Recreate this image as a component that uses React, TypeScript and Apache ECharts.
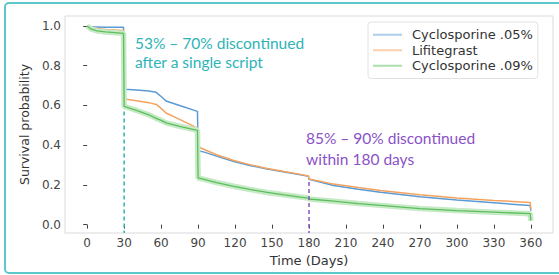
import React, { useEffect, useRef } from "react";
import * as echarts from "echarts";

const days = [0, 3, 8, 15, 29.5, 30, 40, 50, 56, 60, 64, 75, 89.5, 90, 95, 105, 119, 132, 146, 160, 173, 179.5, 180, 200, 220, 238, 270, 300, 330, 359.5, 360];
const cyclo05 = [1.0, 0.995, 0.995, 0.994, 0.993, 0.682, 0.677, 0.672, 0.666, 0.645, 0.622, 0.6, 0.57, 0.372, 0.365, 0.345, 0.318, 0.298, 0.28, 0.265, 0.251, 0.244, 0.228, 0.197, 0.178, 0.163, 0.14, 0.124, 0.11, 0.096, 0.07];
const lifitegrast = [1.0, 0.993, 0.987, 0.982, 0.977, 0.632, 0.624, 0.614, 0.605, 0.585, 0.562, 0.53, 0.486, 0.392, 0.378, 0.352, 0.323, 0.302, 0.283, 0.267, 0.253, 0.245, 0.23, 0.204, 0.187, 0.172, 0.151, 0.134, 0.122, 0.112, 0.078];
const cyclo09 = [1.0, 0.985, 0.975, 0.97, 0.963, 0.595, 0.575, 0.553, 0.535, 0.525, 0.512, 0.495, 0.475, 0.235, 0.228, 0.212, 0.193, 0.177, 0.162, 0.15, 0.139, 0.134, 0.129, 0.118, 0.106, 0.097, 0.081, 0.071, 0.063, 0.055, 0.02];

const seriesNames = ["Cyclosporine .05%", "Lifitegrast", "Cyclosporine .09%"];
const xTicks = [0, 30, 60, 90, 120, 150, 180, 210, 240, 270, 300, 330, 360];
const yTicks = [0, 0.2, 0.4, 0.6, 0.8, 1.0];
const markerDays = [30, 180];
const markerTops = [0.57, 0.215];
const annotationTeal = ["53% – 70% discontinued", "after a single script"];
const annotationPurple = ["85% – 90% discontinued", "within 180 days"];

const pair = (vals: number[]) => days.map((d, i) => [d, vals[i]]);

export default function App() {
  const ref = useRef<HTMLDivElement>(null);
  useEffect(() => {
    if (!ref.current) return;
    const chart = echarts.init(ref.current, null, { renderer: "svg" });
    const axisFont = "DejaVu Sans";
    const lineColors = ["#5b9bd5", "#f5a25e", "#5cbf5c"];
    const teal = "#2fb3b6";
    const purple = "#8a52c6";
    const yMin = -0.042;
    const annFont = "15.5px Lato";
    chart.setOption({
      animation: false,
      backgroundColor: "#ffffff",
      grid: {
        left: 65,
        top: 16,
        width: 488,
        height: 217,
        show: true,
        borderColor: "#dadada",
        borderWidth: 1,
        backgroundColor: "transparent",
      },
      legend: {
        orient: "vertical",
        left: 368,
        top: 22,
        padding: [5, 5, 5, 5],
        icon: "rect",
        itemWidth: 29,
        itemHeight: 2,
        itemGap: 0,
        itemStyle: { opacity: 0.5 },
        borderColor: "#e2e2e2",
        borderWidth: 1,
        borderRadius: 3,
        backgroundColor: "#ffffff",
        textStyle: {
          fontFamily: axisFont,
          fontSize: 13,
          color: "#333",
          lineHeight: 15.5,
          padding: [0, 0, 0, 5],
        },
        data: seriesNames,
      },
      xAxis: {
        type: "value",
        min: -18,
        max: 378,
        splitLine: { show: false },
        axisLine: { show: false },
        axisTick: { show: true, customValues: xTicks, length: 4, lineStyle: { color: "#444" } },
        axisLabel: { customValues: xTicks, fontFamily: axisFont, fontSize: 12, color: "#444", margin: 4 },
        name: "Time (Days)",
        nameLocation: "middle",
        nameGap: 17,
        nameTextStyle: { fontFamily: axisFont, fontSize: 13, color: "#333" },
      },
      yAxis: {
        type: "value",
        min: yMin,
        max: 1.05,
        splitLine: { show: false },
        axisLine: { show: false },
        axisTick: { show: true, customValues: yTicks, length: 4, lineStyle: { color: "#444" } },
        axisLabel: {
          customValues: yTicks,
          fontFamily: axisFont,
          fontSize: 12,
          color: "#444",
          margin: 4,
          formatter: (v: number) => v.toFixed(1),
        },
        name: "Survival probability",
        nameLocation: "middle",
        nameGap: 34,
        nameTextStyle: { fontFamily: axisFont, fontSize: 12.5, color: "#333" },
      },
      series: [
        {
          name: seriesNames[0],
          type: "line",
          data: pair(cyclo05),
          symbol: "none",
          lineStyle: { color: lineColors[0], width: 1.5 },
          itemStyle: { color: lineColors[0] },
          z: 3,
        },
        {
          name: seriesNames[1],
          type: "line",
          data: pair(lifitegrast),
          symbol: "none",
          lineStyle: { color: lineColors[1], width: 1.5 },
          itemStyle: { color: lineColors[1] },
          z: 3,
        },
        {
          name: "band09",
          type: "line",
          data: pair(cyclo09),
          symbol: "none",
          silent: true,
          lineStyle: { color: "#c6e9c6", width: 5.5 },
          itemStyle: { color: "#c6e9c6" },
          z: 3,
        },
        {
          name: seriesNames[2],
          type: "line",
          data: pair(cyclo09),
          symbol: "none",
          lineStyle: { color: lineColors[2], width: 1.3 },
          itemStyle: { color: lineColors[2] },
          z: 3,
        },
        {
          name: "mark30",
          type: "line",
          data: [
            [markerDays[0], markerTops[0]],
            [markerDays[0], yMin],
          ],
          symbol: "none",
          silent: true,
          lineStyle: { color: teal, width: 1.5, type: [4, 3] },
          z: 4,
        },
        {
          name: "mark180",
          type: "line",
          data: [
            [markerDays[1], markerTops[1]],
            [markerDays[1], yMin],
          ],
          symbol: "none",
          silent: true,
          lineStyle: { color: purple, width: 1.5, type: [4, 3] },
          z: 4,
        },
      ],
      graphic: [
        {
          type: "rect",
          shape: { x: 5, y: 3, width: 600, height: 270, r: 4 },
          style: { fill: "none", stroke: "#5cc8cb", lineWidth: 2 },
          silent: true,
        },
        {
          type: "text",
          x: 135,
          y: 43,
          style: { text: annotationTeal[0], fill: teal, font: annFont, verticalAlign: "middle" },
        },
        {
          type: "text",
          x: 135,
          y: 62,
          style: { text: annotationTeal[1], fill: teal, font: annFont, verticalAlign: "middle" },
        },
        {
          type: "text",
          x: 306,
          y: 138,
          style: { text: annotationPurple[0], fill: purple, font: annFont, verticalAlign: "middle" },
        },
        {
          type: "text",
          x: 306,
          y: 159,
          style: { text: annotationPurple[1], fill: purple, font: annFont, verticalAlign: "middle" },
        },
      ],
    });
    return () => chart.dispose();
  }, []);
  return (
    <div
      ref={ref}
      style={{ position: "absolute", left: 0, top: 0, width: 559, height: 275 }}
    />
  );
}
